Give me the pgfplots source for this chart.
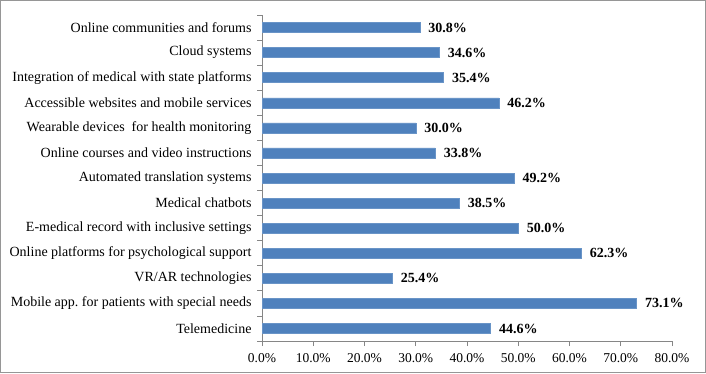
\documentclass[border=0pt]{standalone}
\usepackage{pgfplots}
\pgfplotsset{compat=1.18}
\usepackage{fontspec}
\setmainfont{Liberation Serif}
\definecolor{barblue}{RGB}{79,129,189}
\definecolor{axgray}{RGB}{134,134,134}
\definecolor{framegray}{RGB}{150,150,150}
\begin{document}
\frenchspacing
\begin{tikzpicture}
\draw[draw=framegray, line width=1.2pt] (0.6pt,0.6pt) rectangle (705.4pt,372.4pt);
\begin{axis}[
  at={(262pt,32pt)}, anchor=south west,
  scale only axis, width=410pt, height=326pt,
  xbar, bar width=10pt,
  xmin=0, xmax=80, ymin=-0.5, ymax=12.5,
  axis x line*=bottom, axis y line*=left,
  axis line style={draw=axgray, line width=0.8pt, -},
  tick align=outside,
  major tick length=5pt, minor tick length=5pt,
  tick style={draw=axgray, line width=0.8pt},
  every major y tick/.append style={draw=none},
  xtick={0,10,...,80},
  ytick={0,...,12},
  minor ytick={-0.5,0.5,...,12.5},
  yticklabels={Telemedicine, Mobile app. for patients with special needs, VR/AR technologies, Online platforms for psychological support, E-medical record with inclusive settings, Medical chatbots, Automated translation systems, Online courses and video instructions, Wearable devices\ \ for health monitoring, Accessible websites and mobile services, Integration of medical with state platforms, Cloud systems, Online communities and forums},
  /pgf/number format/assume math mode=true,
  xticklabel={\pgfmathprintnumber[fixed,fixed zerofill,precision=1]{\tick}\%},
  yticklabel style={font=\fontsize{14}{16}\selectfont, text=black, xshift=-2pt},
  xticklabel style={font=\fontsize{13.5}{15}\selectfont, text=black, yshift=-4pt},
  point meta=x,
  nodes near coords={\pgfmathprintnumber[fixed,fixed zerofill,precision=1]{\pgfplotspointmeta}\%},
  nodes near coords style={font=\fontsize{14}{16}\selectfont\bfseries, anchor=west, xshift=5pt, text=black},
  clip=false,
]
\addplot[fill=barblue, draw=barblue!85!white, line width=0.5pt] coordinates {
(44.6,0) (73.1,1) (25.4,2) (62.3,3) (50.0,4) (38.5,5) (49.2,6) (33.8,7) (30.0,8) (46.2,9) (35.4,10) (34.6,11) (30.8,12)
};
\end{axis}
\end{tikzpicture}
\end{document}
